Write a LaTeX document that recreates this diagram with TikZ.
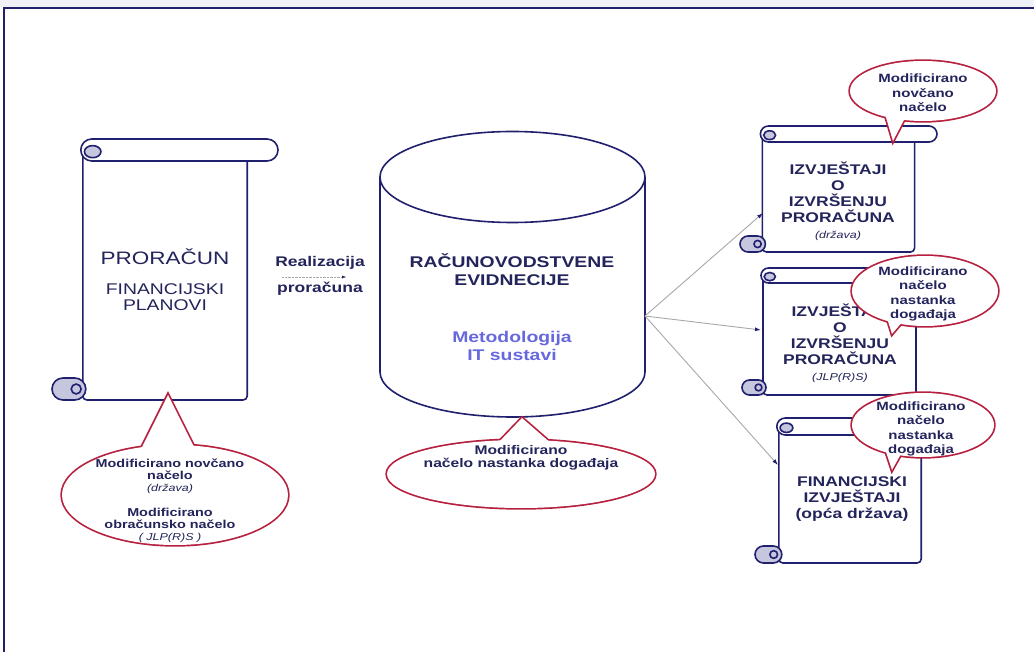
\documentclass[tikz,border=0pt]{standalone}
\usepackage{fontspec}
\setmainfont[FakeStretch=1.25]{Liberation Sans}
\usetikzlibrary{arrows.meta}
\definecolor{ink}{RGB}{36,36,92}
\definecolor{scrollblue}{RGB}{32,32,110}
\definecolor{curlgray}{RGB}{198,198,222}
\definecolor{calloutred}{RGB}{182,32,62}
\definecolor{methodblue}{RGB}{104,104,222}
\definecolor{linkgray}{RGB}{168,168,168}
\definecolor{topband}{RGB}{240,240,248}
\tikzset{
  scroll line/.style={draw=scrollblue, line width=1.6pt},
  callout line/.style={draw=calloutred, line width=3.4pt},
  frame line/.style={draw=scrollblue, line width=1.8pt},
  basetext/.style={text=ink, align=center, inner sep=0pt},
  bigtext/.style={basetext, font=\fontsize{18}{22}\selectfont},
  midtext/.style={basetext, font=\fontsize{15.5}{16}\selectfont},
  headtext/.style={basetext, font=\bfseries\fontsize{15.5}{18}\selectfont},
  methodtext/.style={headtext, text=methodblue},
  flowtext/.style={basetext, font=\bfseries\fontsize{14}{16}\selectfont},
  reporttext/.style={basetext, font=\bfseries\fontsize{14}{16}\selectfont},
  notetext/.style={basetext, font=\bfseries\fontsize{11.5}{12}\selectfont},
  smallnote/.style={basetext, font=\bfseries\fontsize{12}{14.5}\selectfont},
  link/.style={draw=linkgray, line width=0.9pt, -{Latex[length=6pt,width=4pt,color=scrollblue]}}
}
\newcommand{\notefont}{\mdseries\itshape\fontsize{10}{12}\selectfont}
\newcommand{\scrollbox}[5]{%
  \begin{scope}[shift={(#1,#2)}]
    \pgfmathsetmacro{\sw}{#3-#1}
    \pgfmathsetmacro{\sh}{#4-#2}
    \pgfmathsetmacro{\sr}{#5/2}
    \pgfmathsetmacro{\sc}{1.4*#5}
    \filldraw[scroll line, fill=white, rounded corners=4pt]
      (\sc,\sr) -- (\sc,\sh) -- (\sw-\sc,\sh) -- (\sw-\sc,\sr);
    \filldraw[scroll line, fill=white, rounded corners=\sr pt]
      (\sc-2,0) rectangle (\sw,#5);
    \filldraw[scroll line, fill=curlgray]
      (\sc+\sr*0.9,\sr*1.15) ellipse[x radius=\sr*0.75, y radius=\sr*0.55];
    \filldraw[scroll line, fill=curlgray, rounded corners=\sr pt]
      (0,\sh-#5) rectangle (\sc+3,\sh);
    \draw[scroll line] (\sc-\sr*0.6,\sh-\sr) circle[radius=\sr*0.45];
  \end{scope}}
\newcommand{\callout}[6]{%
  \draw[callout line] #1 ellipse[x radius=#2, y radius=#3] #4 -- #5 -- #6;
  \fill[white] #1 ellipse[x radius=#2, y radius=#3];
  \fill[white] #4 -- #5 -- #6 -- cycle;}
\begin{document}
\begin{tikzpicture}[x=1pt,y=-1pt]
  \useasboundingbox (0,0) rectangle (1034,652);
  \fill[white] (0,0) rectangle (1034,652);
  \fill[topband] (0,0) rectangle (1034,7);
  \draw[frame line] (4,652) -- (4,8) -- (1034,8);

  \scrollbox{52}{139}{278}{400}{22}
  \node[bigtext] (budget) at (165,257) {PRORAČUN};
  \node[midtext] (plans) at (165,297) {FINANCIJSKI\\PLANOVI};

  \filldraw[scroll line, fill=white]
    (380,177) -- (380,372) arc[start angle=180, end angle=0, x radius=132.5, y radius=45] -- (645,177);
  \draw[scroll line] (512.5,177) ellipse[x radius=132.5, y radius=45.5];
  \node[headtext] (ledger) at (512,270) {RAČUNOVODSTVENE\\EVIDNECIJE};
  \node[methodtext] (method) at (512,346) {Metodologija\\IT sustavi};

  \node[flowtext] (realize) at (320,263) {Realizacija};
  \node[flowtext] (budgetexec) at (320,289) {proračuna};
  \coordinate (flowin) at (282,277);
  \coordinate (flowout) at (346,277);
  \draw[linkgray, densely dotted, -{Latex[length=4pt,width=3pt,color=ink]}] (flowin) -- (flowout);

  \scrollbox{740}{126}{937}{252}{16}
  \node[reporttext] (repstate) at (838,201)
    {IZVJEŠTAJI\\O\\IZVRŠENJU\\PRORAČUNA\\{\notefont(država)}};
  \scrollbox{742}{268}{937}{395}{15}
  \node[reporttext] (replocal) at (840,343)
    {IZVJEŠTAJI\\O\\IZVRŠENJU\\PRORAČUNA\\{\notefont(JLP(R)S)}};
  \scrollbox{755}{418}{945}{563}{17}
  \node[reporttext] (finrep) at (852,499)
    {FINANCIJSKI\\IZVJEŠTAJI\\(opća država)};

  \coordinate (ledgerout) at (645,316);
  \coordinate (instate) at (763,213);
  \coordinate (inlocal) at (761,330);
  \coordinate (infin) at (778,465);
  \draw[link] (ledgerout) -- (instate);
  \draw[link] (ledgerout) -- (inlocal);
  \draw[link] (ledgerout) -- (infin);

  \callout{(175,495)}{113}{50}{(140,451)}{(168,395)}{(195,449)}
  \node[notetext] (cashbasis) at (170,501)
    {Modificirano novčano\\načelo\\{\notefont(država)}\\[13pt]Modificirano\\obračunsko načelo\\{\notefont( JLP(R)S )}};
  \callout{(521,474)}{134}{34}{(497,444)}{(522,418)}{(553,445)}
  \node[basetext, font=\bfseries\fontsize{12.5}{13.5}\selectfont] (accrual) at (521,458)
    {Modificirano\\načelo nastanka događaja};
  \callout{(923,91)}{73}{30}{(885,114)}{(893,141)}{(905,118)}
  \node[smallnote] (notestate) at (923,93) {Modificirano\\novčano\\načelo};
  \callout{(925,291)}{73}{35}{(887,318)}{(892,334)}{(903,321)}
  \node[smallnote] (notelocal) at (923,294) {Modificirano\\načelo\\nastanka\\događaja};
  \callout{(923,425)}{71}{32}{(885,449)}{(892,470)}{(902,452)}
  \node[smallnote] (notefin) at (921,429) {Modificirano\\načelo\\nastanka\\događaja};
\end{tikzpicture}
\end{document}
